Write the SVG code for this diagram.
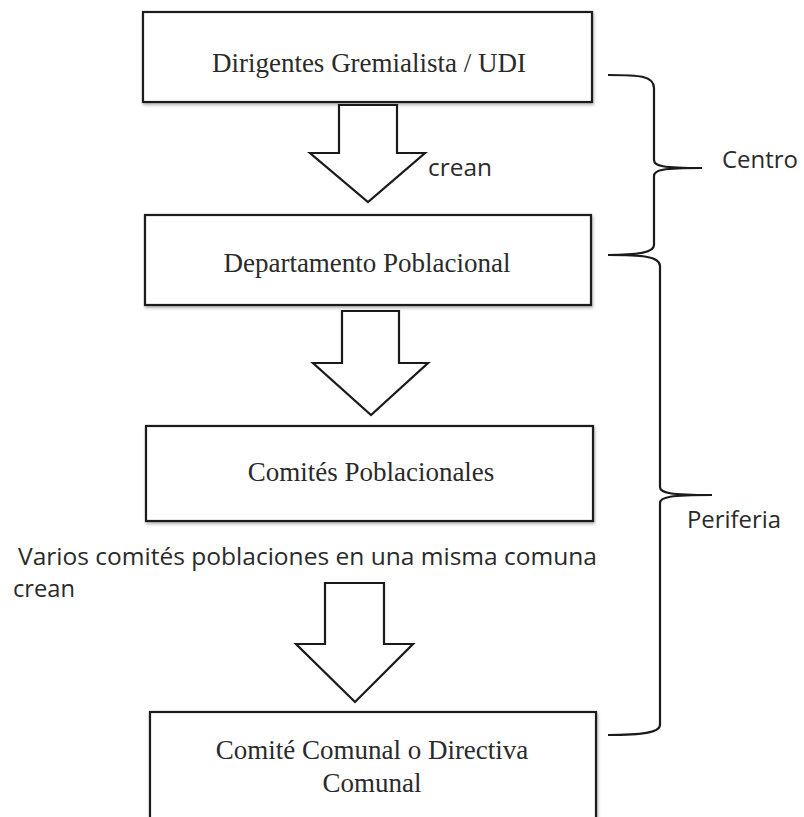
<svg xmlns="http://www.w3.org/2000/svg" width="804" height="817" viewBox="0 0 804 817">
  <defs>
    <filter id="sh" x="-5%" y="-10%" width="110%" height="130%">
      <feDropShadow dx="1" dy="2" stdDeviation="1.5" flood-color="#000" flood-opacity="0.3"/>
    </filter>
    <style>
      .box { fill: #fff; stroke: #1a1a1a; stroke-width: 2.2; }
      .arrow { fill: #fff; stroke: #1a1a1a; stroke-width: 2.2; stroke-linejoin: miter; }
      .brace { fill: none; stroke: #1a1a1a; stroke-width: 2.2; }
      .serif { font-family: "Liberation Serif", "Times New Roman", serif; font-size: 27px; fill: #2a2a2a; text-anchor: middle; }
      .sans { font-family: "Open Sans", "Liberation Sans", sans-serif; font-size: 24px; fill: #2a2a2a; }
    </style>
  </defs>
  <rect width="804" height="817" fill="#fff"/>

  <g id="node-dirigentes">
    <rect class="box" x="143" y="12" width="449" height="90" filter="url(#sh)"/>
    <text class="serif" x="369" y="72">Dirigentes Gremialista / UDI</text>
  </g>

  <g id="node-departamento">
    <rect class="box" x="145" y="215" width="446" height="90" filter="url(#sh)"/>
    <text class="serif" x="367" y="272">Departamento Poblacional</text>
  </g>

  <g id="node-comites">
    <rect class="box" x="146" y="426" width="447" height="95" filter="url(#sh)"/>
    <text class="serif" x="371" y="481">Comités Poblacionales</text>
  </g>

  <g id="node-comite-comunal">
    <rect class="box" x="150" y="712" width="446" height="130" filter="url(#sh)"/>
    <text class="serif" x="372" y="759">Comité Comunal o Directiva</text>
    <text class="serif" x="372" y="792">Comunal</text>
  </g>

  <g id="connectors">
    <polygon class="arrow" points="339,105 397,105 397,153 425,153 368,202 310,153 339,153"/>
    <polygon class="arrow" points="342,311 399,311 399,363 428,363 371,415 313,363 342,363"/>
    <polygon class="arrow" points="325,583 384,583 384,644 413,644 355,702 296,644 325,644"/>
    <text class="sans" x="428" y="176" textLength="64" lengthAdjust="spacingAndGlyphs">crean</text>
    <text class="sans" x="18" y="565" textLength="579" lengthAdjust="spacingAndGlyphs">Varios comités poblaciones en una misma comuna</text>
    <text class="sans" x="13" y="597" textLength="62" lengthAdjust="spacingAndGlyphs">crean</text>
  </g>

  <g id="brace-centro">
    <path class="brace" d="M608,75 C640,75 654,76 654,88 L654,160 C654,166 662,168 702,168 C662,168 654,170 654,176 L654,245 C654,252 640,255 608,255"/>
    <text class="sans" x="722" y="168" textLength="76" lengthAdjust="spacingAndGlyphs">Centro</text>
  </g>

  <g id="brace-periferia">
    <path class="brace" d="M608,255 C640,255 660,256 660,266 L660,487 C660,493 670,495 712,495 C670,495 660,497 660,503 L660,725 C660,732 645,735 608,735"/>
    <text class="sans" x="687" y="528" textLength="94" lengthAdjust="spacingAndGlyphs">Periferia</text>
  </g>
</svg>
